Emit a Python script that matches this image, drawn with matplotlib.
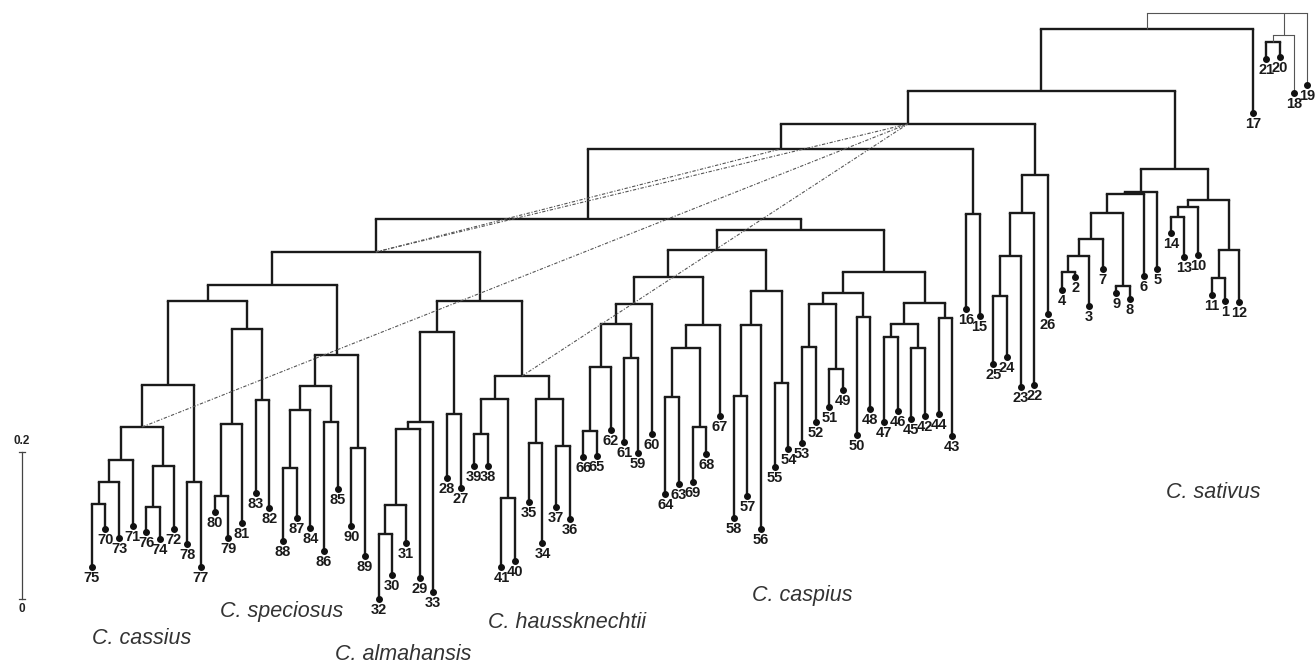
import matplotlib.pyplot as plt

# leaves, left to right, and the row (from the top of the image) where each tip ends
leaf_order = [75, 70, 73, 71, 76, 74, 72, 78, 77, 80, 79, 81, 83, 82, 88, 87, 84, 86,
              85, 90, 89, 32, 30, 31, 29, 33, 28, 27, 39, 38, 41, 40, 35, 34, 37, 36,
              66, 65, 62, 61, 59, 60, 64, 63, 69, 68, 67, 58, 57, 56, 55, 54, 53, 52,
              51, 49, 50, 48, 47, 46, 45, 42, 44, 43, 16, 15, 25, 24, 23, 22, 26, 4,
              2, 3, 7, 9, 8, 6, 5, 14, 13, 10, 11, 1, 12, 17, 21, 20, 18, 19]
leaf_tip = [567, 529, 538, 526, 532, 539, 529, 544, 567, 512, 538, 523, 493, 508, 541, 518, 528, 551,
            489, 526, 556, 599, 575, 543, 578, 592, 478, 488, 466, 466, 567, 561, 502, 543, 507, 519,
            457, 456, 430, 442, 453, 434, 494, 484, 482, 454, 416, 518, 496, 529, 467, 449, 443, 422,
            407, 390, 435, 409, 422, 411, 419, 416, 414, 436, 309, 316, 364, 357, 387, 385, 314, 290,
            277, 306, 269, 293, 299, 276, 269, 233, 257, 255, 295, 301, 302, 113, 59, 57, 93, 85]

# joins: (node, children, level)
merges = [
    ("a1", (75, 70), 504), ("a2", ("a1", 73), 482), ("a3", ("a2", 71), 460),
    ("a4", (76, 74), 507), ("a5", ("a4", 72), 466), ("a6", ("a3", "a5"), 427),
    ("a7", (78, 77), 482), ("a8", ("a6", "a7"), 385),
    ("b1", (80, 79), 496), ("b2", ("b1", 81), 424), ("b3", (83, 82), 400),
    ("b4", ("b2", "b3"), 329), ("L1", ("a8", "b4"), 301),
    ("c1", (88, 87), 468), ("c2", ("c1", 84), 410), ("c3", (86, 85), 422),
    ("c4", ("c2", "c3"), 386), ("c5", (90, 89), 448), ("c6", ("c4", "c5"), 355),
    ("L2", ("L1", "c6"), 285),
    ("d1", (32, 30), 534), ("d2", ("d1", 31), 505), ("d3", ("d2", 29), 429),
    ("d4", ("d3", 33), 422), ("d5", (28, 27), 414), ("d6", ("d4", "d5"), 332),
    ("e1", (39, 38), 434), ("e2", (41, 40), 498), ("e3", ("e1", "e2"), 399),
    ("e4", (35, 34), 443), ("e5", (37, 36), 446), ("e6", ("e4", "e5"), 399),
    ("e7", ("e3", "e6"), 376), ("M", ("d6", "e7"), 301), ("LB", ("L2", "M"), 252),
    ("f1", (66, 65), 431), ("f2", ("f1", 62), 367), ("f3", (61, 59), 358),
    ("f4", ("f2", "f3"), 324), ("f5", ("f4", 60), 304),
    ("f6", (64, 63), 397), ("f7", (69, 68), 427), ("f8", ("f6", "f7"), 348),
    ("f9", ("f8", 67), 325), ("f10", ("f5", "f9"), 277),
    ("f11", (58, 57), 396), ("f12", ("f11", 56), 325), ("f13", (55, 54), 383),
    ("f14", ("f12", "f13"), 291), ("f15", ("f10", "f14"), 250),
    ("g1", (53, 52), 347), ("g2", (51, 49), 369), ("g3", ("g1", "g2"), 304),
    ("g4", (50, 48), 317), ("g5", ("g3", "g4"), 293),
    ("g6", (47, 46), 337), ("g7", (45, 42), 348), ("g8", ("g6", "g7"), 324),
    ("g9", (44, 43), 318), ("g10", ("g8", "g9"), 303), ("g11", ("g5", "g10"), 272),
    ("CA", ("f15", "g11"), 230), ("A", ("LB", "CA"), 219),
    ("h1", (16, 15), 214), ("B", ("A", "h1"), 149),
    ("i1", (25, 24), 296), ("i2", ("i1", 23), 256), ("i3", ("i2", 22), 213),
    ("i4", ("i3", 26), 175), ("D", ("B", "i4"), 124),
    ("j1", (4, 2), 272), ("j2", ("j1", 3), 256), ("j3", ("j2", 7), 239),
    ("j4", (9, 8), 286), ("j5", ("j3", "j4"), 213), ("j6", ("j5", 6), 194),
    ("j7", ("j6", 5), 192),
    ("k1", (14, 13), 217), ("k2", ("k1", 10), 207), ("k3", (11, 1), 278),
    ("k4", ("k3", 12), 250), ("k5", ("k2", "k4"), 200), ("S", ("j7", "k5"), 169),
    ("E", ("D", "S"), 91), ("F", ("E", 17), 29),
    ("o1", (21, 20), 42), ("o2", ("o1", 18), 35), ("R", ("F", "o2", 19), 13),
]
thin_nodes = ["o2", "R"]

# dotted links between clusters
links = [("a6", "D"), ("LB", "D"), ("LB", "B"), ("e7", "D")]

species = ["C. cassius", "C. speciosus", "C. almahansis", "C. haussknechtii",
           "C. caspius", "C. sativus"]
species_xy = [(92, 638), (220, 612), (335, 654), (488, 622), (752, 596), (1166, 493)]

plt.rcParams['font.family'] = ['Liberation Sans', 'DejaVu Sans']

fig = plt.figure(figsize=(13.15, 6.63), dpi=100)
ax = fig.add_axes([0, 0, 1, 1])
ax.set_xlim(0, 1315)
ax.set_ylim(663, 0)
ax.axis('off')

x0, dx = 91.7, 13.66
pos = {}
for i, (lab, tip) in enumerate(zip(leaf_order, leaf_tip)):
    pos[lab] = (x0 + i * dx, tip)

for name, kids, h in merges:
    xs = [pos[k][0] for k in kids]
    pos[name] = ((xs[0] + xs[-1]) / 2, h)
    if name in thin_nodes:
        kw = dict(color='#555555', lw=0.8)
    else:
        kw = dict(color='#1a1a1a', lw=1.7)
    ax.plot([min(xs), max(xs)], [h, h], solid_capstyle='projecting', **kw)
    for k in kids:
        kx, ky = pos[k]
        ax.plot([kx, kx], [ky, h], solid_capstyle='butt', **kw)

for a, b in links:
    ax.plot([pos[a][0], pos[b][0]], [pos[a][1], pos[b][1]],
            color='#555555', lw=0.8, ls=(0, (3, 1.5, 1, 1.5)))

lx = [pos[l][0] for l in leaf_order]
ax.plot(lx, leaf_tip, 'o', ms=4, color='#111111', zorder=3)
for x, y, lab in zip(lx, leaf_tip, leaf_order):
    ax.text(x, y + 4, str(lab), ha='center', va='top', fontsize=10.5,
            fontweight='bold', color='#1a1a1a')

for name, (sx, sy) in zip(species, species_xy):
    ax.text(sx, sy, name, ha='left', va='center', fontsize=15.5,
            style='italic', color='#333333')

# scale bar
ax.plot([22, 22], [452, 599], color='#444444', lw=0.9)
ax.plot([19, 25], [452, 452], color='#444444', lw=0.9)
ax.plot([19, 25], [599, 599], color='#444444', lw=0.9)
ax.text(22, 441, "0.2", ha='center', va='center', fontsize=8.5, fontweight='bold', color='#222222')
ax.text(22, 609, "0", ha='center', va='center', fontsize=8.5, fontweight='bold', color='#222222')

fig.savefig("out.png", dpi=100)
